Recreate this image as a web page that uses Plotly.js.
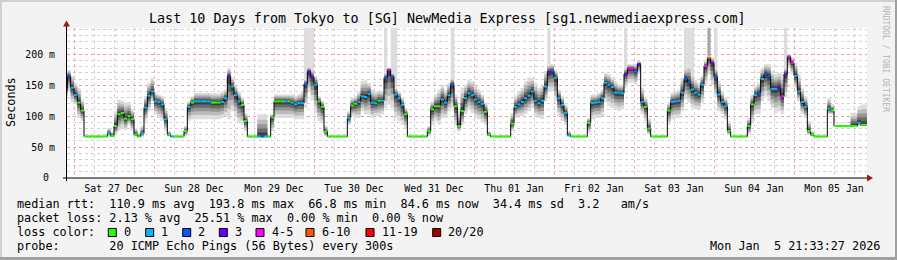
<!DOCTYPE html>
<html><head><meta charset="utf-8">
<script src="https://cdn.plot.ly/plotly-3.0.1.min.js"></script>
<style>html,body{margin:0;padding:0;background:#f3f3f3;overflow:hidden}</style>
</head><body><div id="chart" style="width:897px;height:260px"></div>
<script>
// hourly data, first value at hour -3 relative to Sat 27 Dec 2025 00:00
const startHour = -3;
const medianRtt = [
 143,164,146,
 134,122,109,67,67,67,67,67,67,67,72,68,84,103,105,96,100,95,70,67,72,114,133,140,
 124,123,119,95,70,67,67,67,67,76,115,122,124,124,124,124,124,122,122,122,123,129,164,148,
 134,124,118,92,67,67,67,67,67,67,67,98,124,124,124,124,124,122,119,121,121,152,172,163,
 151,124,115,75,67,67,67,67,67,67,97,117,120,123,132,131,136,122,121,125,125,162,175,164,
 135,129,118,103,67,67,67,67,67,67,76,111,116,116,127,122,134,151,116,84,108,129,137,134,
 127,123,120,107,70,67,67,67,67,67,67,88,115,119,123,129,133,140,125,121,125,148,171,173,
 162,129,118,105,69,67,67,67,67,67,89,121,122,123,129,154,151,147,138,138,137,168,177,177,
 173,184,123,115,80,67,67,67,67,67,109,123,124,125,138,160,154,143,138,135,151,181,194,186,
 163,135,123,116,76,67,67,67,67,67,84,119,134,137,160,168,165,144,144,146,132,168,196,186,
 165,140,123,115,76,70,67,67,67,67,112,109,84,84,84,84,84,84,84,89,86,86
];
const lossIdx = [
 1,2,1,
 1,0,0,0,0,0,0,0,0,0,1,0,0,0,0,0,0,0,0,0,1,1,1,1,
 1,1,1,1,0,1,0,0,0,0,1,0,1,1,1,1,1,0,0,0,1,1,3,1,
 1,1,0,0,0,0,0,1,2,1,0,0,0,0,0,1,0,1,1,1,1,2,3,3,
 1,0,0,0,0,0,0,0,0,0,1,0,0,1,1,1,1,1,1,0,1,2,4,2,
 1,1,1,0,0,0,0,0,0,0,0,0,0,0,1,1,1,2,0,0,0,1,1,1,
 1,1,1,0,0,0,0,0,0,0,0,0,1,1,1,1,1,1,1,1,1,1,3,2,
 1,1,1,1,1,0,0,0,0,0,0,1,1,1,1,1,1,1,1,1,1,3,4,4,
 2,3,1,0,0,0,0,0,0,0,0,1,1,1,1,2,2,1,1,1,1,4,5,3,
 2,1,1,1,0,0,0,0,0,0,0,0,1,2,1,2,2,1,1,3,4,3,4,4,
 1,1,1,1,0,0,0,0,0,0,1,0,0,0,0,0,0,0,0,1,0,0
];
const smokeLow = [
 125,140,122,
 119,97,92,66,66,66,66,66,66,66,68,66,70,76,81,77,86,76,67,66,67,92,108,124,
 103,97,92,76,67,66,66,66,66,68,92,95,95,95,95,95,95,95,95,95,97,100,95,108,
 100,89,86,76,66,66,66,66,66,66,66,76,97,97,97,97,97,97,95,95,95,113,140,125,
 105,92,88,67,66,66,66,66,66,66,86,100,97,97,108,103,103,97,100,100,103,113,119,113,
 97,92,86,81,66,66,66,66,66,66,68,86,92,86,97,97,108,113,86,76,86,103,111,105,
 97,95,89,86,67,66,66,66,66,66,66,76,97,100,100,103,108,113,100,97,95,124,140,140,
 124,100,92,86,67,66,66,66,66,66,73,95,97,97,100,122,116,113,111,108,111,146,154,154,
 151,168,103,92,70,66,66,66,66,66,86,95,97,97,108,127,122,113,111,111,122,151,168,150,
 130,108,103,95,70,66,66,66,66,66,70,89,103,103,124,132,124,113,105,108,103,130,178,168,
 146,124,103,97,70,67,66,66,66,66,103,103,83,83,83,83,83,84,84,84,84,84
];
const smokeHigh = [
 150,175,165,
 154,146,127,69,69,69,69,69,69,69,81,75,108,127,125,122,123,111,81,72,84,132,154,162,
 138,135,132,113,76,69,69,69,69,84,124,132,138,138,138,138,138,137,137,137,140,143,178,162,
 149,140,130,105,69,69,69,103,103,103,69,103,135,135,135,135,135,135,133,135,140,160,180,175,
 165,132,125,85,69,69,69,69,69,69,108,130,132,140,157,158,154,143,140,142,140,170,178,170,
 146,140,130,113,69,69,69,69,69,69,84,124,135,143,151,143,154,162,135,108,146,151,159,157,
 149,143,135,122,76,69,69,69,69,69,69,105,132,140,146,157,162,162,154,146,151,173,184,184,
 175,143,132,119,76,69,69,69,69,69,97,135,135,138,143,170,168,162,157,151,151,178,184,184,
 184,189,146,130,97,69,69,69,69,69,122,138,140,143,162,178,184,168,159,154,165,189,197,195,
 178,157,140,130,92,69,69,69,69,69,97,135,149,154,178,184,184,173,168,170,168,178,200,195,
 186,168,146,132,92,75,69,69,69,69,129,119,85,85,85,85,85,105,105,116,119,119
];
// outlier columns running off the top of the graph
const spikeHours = [69,70,71,93,95,96,113,142,165,183,184,185,192,213];
const spikeTop   = [300,300,300,300,300,300,300,300,300,300,300,300,300,300];
const denseSpikeHours = [190];
const denseSpikeTop   = [300];

const lossLabels = ['0','1','2','3','4-5','6-10','11-19','20/20'];
const lossColors = ['#26ff00','#00b8ff','#0059ff','#6a00ff','#ff00ff','#ff5500','#ff0000','#a10000'];
const yTickVals = [0,50,100,150,200];
const yTickText = ['0\u00a0','50 m','100 m','150 m','200 m'];
const chartTitle = 'Last 10 Days from Tokyo to [SG] NewMedia Express [sg1.newmediaexpress.com]';
const statLines = [
  {y:204,   text:'median rtt:  110.9 ms avg  193.8 ms max  66.8 ms min  84.6 ms now  34.4 ms sd  3.2   am/s'},
  {y:218.3, text:'packet loss: 2.13 % avg  25.51 % max  0.00 % min  0.00 % now'},
  {y:232.3, text:'loss color:'},
  {y:246.3, text:'probe:       20 ICMP Echo Pings (56 Bytes) every 300s'}
];
const swatchX = [108.3,145.7,182.7,219.3,256,306,366,432.7];
const stampText = 'Mon Jan  5 21:33:27 2026';
const sideText = 'RRDTOOL / TOBI OETIKER';

// ---------- helpers ----------
const T0 = Date.UTC(2025, 11, 27);
function tx(h){ return new Date(T0 + h*3600000).toISOString().replace('T',' ').slice(0,19); }
const N = medianRtt.length;
const xs = []; for (let i=0;i<=N;i++) xs.push(tx(startHour+i));
const ext = a => a.concat([a[a.length-1]]);
const MONO = 'DejaVu Sans Mono, monospace';
const LEGF = 11.8;
const L = 67, T = 28, W = 800, H = 150;
const px = x => (x - L)/W, py = y => (T + H - y)/H;
const nb = s => s.replace(/ /g,'\u00a0');

const traces = [];
function spikeTrace(hours, tops, color){
  return {type:'bar', x: hours.map(h=>tx(h+0.5)),
    base: hours.map(h=>smokeHigh[h-startHour]),
    y: hours.map((h,i)=>tops[i]-smokeHigh[h-startHour]),
    width: hours.map(()=>3600000), marker:{color:color, line:{width:0}}, hoverinfo:'skip'};
}
traces.push(spikeTrace(spikeHours, spikeTop, '#dcdcdc'));
traces.push(spikeTrace(denseSpikeHours, denseSpikeTop, '#a8a8a8'));

// smoke bands
const fracs = [1, 0.76, 0.55, 0.36, 0.18];
const shades = ['#dcdcdc','#bbbbbb','#959595','#6a6a6a','#404040'];
fracs.forEach((f,j)=>{
  const lo = medianRtt.map((m,i)=> m - f*(m - smokeLow[i]));
  const hi = medianRtt.map((m,i)=> m + f*(smokeHigh[i] - m));
  traces.push({type:'scatter', mode:'lines', x:xs, y:ext(lo), line:{width:0, shape:'hv'}, hoverinfo:'skip'});
  traces.push({type:'scatter', mode:'lines', x:xs, y:ext(hi), line:{width:0, shape:'hv'}, fill:'tonexty', fillcolor:shades[j], hoverinfo:'skip'});
});
traces.push({type:'scatter', mode:'lines', x:xs, y:ext(medianRtt), line:{color:'#000', width:1, shape:'hv'}, hoverinfo:'skip'});
lossColors.forEach((c,li)=>{
  const sx=[], sy=[];
  medianRtt.forEach((m,i)=>{ if(lossIdx[i]===li){ sx.push(xs[i], xs[i+1], null); sy.push(m, m, null);} });
  if (sx.length) traces.push({type:'scatter', mode:'lines', x:sx, y:sy, line:{color:c, width:2}, hoverinfo:'skip'});
});

// ---------- annotations & shapes ----------
const ann = [];
ann.push({xref:'paper', yref:'paper', x:px(447.5), y:py(19), xanchor:'center', yanchor:'middle', showarrow:false,
  text:chartTitle, font:{family:MONO, size:13.4, color:'#000'}, borderpad:0});
ann.push({xref:'paper', yref:'paper', x:px(11), y:py(102), xanchor:'center', yanchor:'middle', showarrow:false,
  text:'Seconds', textangle:-90, font:{family:MONO, size:LEGF, color:'#000'}, borderpad:0});
ann.push({xref:'paper', yref:'paper', x:px(886), y:py(59), xanchor:'center', yanchor:'middle', showarrow:false,
  text:sideText, textangle:90, font:{family:MONO, size:8, color:'#b4b4b4'}, borderpad:0});
statLines.forEach(r=>{
  ann.push({xref:'paper', yref:'paper', x:px(15.5), y:py(r.y), xanchor:'left', yanchor:'middle', showarrow:false,
    text:nb(r.text), font:{family:MONO, size:LEGF, color:'#000'}, borderpad:0});
});
ann.push({xref:'paper', yref:'paper', x:px(881), y:py(246.3), xanchor:'right', yanchor:'middle', showarrow:false,
  text:nb(stampText), font:{family:MONO, size:LEGF, color:'#000'}, borderpad:0});
lossLabels.forEach((t,i)=>{
  ann.push({xref:'paper', yref:'paper', x:px(swatchX[i]+14.5), y:py(232.3), xanchor:'left', yanchor:'middle', showarrow:false,
    text:t, font:{family:MONO, size:LEGF, color:'#000'}, borderpad:0});
});

const shapes = [];
lossColors.forEach((c,i)=>{
  shapes.push({type:'rect', xref:'paper', yref:'paper', x0:px(swatchX[i]), x1:px(swatchX[i]+8), y0:py(236.5), y1:py(228.5),
    fillcolor:c, line:{color:'#000', width:1}});
});
shapes.push({type:'line', xref:'paper', yref:'paper', x0:px(63), x1:px(869), y0:py(178), y1:py(178), line:{color:'#000', width:1}});
shapes.push({type:'line', xref:'paper', yref:'paper', x0:px(66.5), x1:px(66.5), y0:py(181), y1:py(25), line:{color:'#000', width:1}});
shapes.push({type:'path', xref:'paper', yref:'paper', fillcolor:'#9a1a1a', line:{width:0},
  path:`M ${px(63)} ${py(26.5)} L ${px(70)} ${py(26.5)} L ${px(66.5)} ${py(20.5)} Z`});
shapes.push({type:'path', xref:'paper', yref:'paper', fillcolor:'#9a1a1a', line:{width:0},
  path:`M ${px(867)} ${py(174.5)} L ${px(867)} ${py(181.5)} L ${px(873)} ${py(178)} Z`});
shapes.push({type:'rect', xref:'paper', yref:'paper', x0:px(0), x1:px(897), y0:py(0), y1:py(2), fillcolor:'#d0d0d0', line:{width:0}, layer:'below'});
shapes.push({type:'rect', xref:'paper', yref:'paper', x0:px(0), x1:px(2), y0:py(0), y1:py(260), fillcolor:'#d0d0d0', line:{width:0}, layer:'below'});
shapes.push({type:'rect', xref:'paper', yref:'paper', x0:px(0), x1:px(897), y0:py(257), y1:py(260), fillcolor:'#a0a0a0', line:{width:0}, layer:'below'});
shapes.push({type:'rect', xref:'paper', yref:'paper', x0:px(895), x1:px(897), y0:py(0), y1:py(260), fillcolor:'#a0a0a0', line:{width:0}, layer:'below'});

const majorGrid = 'rgba(255,110,110,0.55)', minorGrid = '#d2d2d2';
const layout = {
  width:897, height:260, margin:{l:L, r:897-L-W, t:T, b:260-T-H, pad:0},
  paper_bgcolor:'#f3f3f3', plot_bgcolor:'#ffffff', showlegend:false, barmode:'overlay', hovermode:false,
  xaxis:{type:'date', range:[tx(-2.1), tx(237.9)], tick0:'2025-12-27', dtick:86400000, tickformat:'%a %d %b',
    ticklabelmode:'period', showgrid:true, gridcolor:majorGrid, griddash:'dot', gridwidth:1,
    minor:{dtick:21600000, showgrid:true, gridcolor:minorGrid, griddash:'dot', gridwidth:1},
    showline:false, zeroline:false, ticks:'', ticklabelstandoff:3,
    tickfont:{family:MONO, size:9.9, color:'#000'}},
  yaxis:{range:[0,242.5], tickmode:'array', tickvals:yTickVals, ticktext:yTickText,
    showgrid:true, gridcolor:majorGrid, griddash:'dot', gridwidth:1,
    minor:{tickmode:'linear', tick0:0, dtick:10, showgrid:true, gridcolor:minorGrid, griddash:'dot', gridwidth:1},
    showline:false, zeroline:false, ticks:'', ticklabelstandoff:11,
    tickfont:{family:MONO, size:9.9, color:'#000'}},
  annotations:ann, shapes:shapes
};
Plotly.newPlot('chart', traces, layout, {staticPlot:true, displayModeBar:false});
</script></body></html>
